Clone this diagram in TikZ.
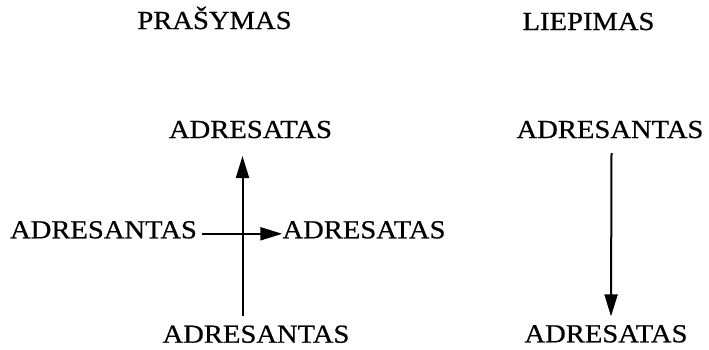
\documentclass[tikz,border=0pt]{standalone}
\usepackage{fontspec}
\setmainfont[FakeStretch=1.1,FakeBold=0.6]{Liberation Serif}
\usetikzlibrary{arrows.meta}
\begin{document}
\begin{tikzpicture}[x=1pt,y=-1pt,
  lbl/.style={anchor=base,inner sep=0pt,font=\fontsize{26}{31}\selectfont},
  arr/.style={line width=2pt,-{Triangle[length=22pt,width=13pt]}}]
\useasboundingbox (0,0) rectangle (709,349);
% column titles
\node[lbl] (req) at (214.5,29) {PRAŠYMAS};
\node[lbl] (ord) at (588.5,30) {LIEPIMAS};
% request: two crossing relations
\node[lbl] (ta) at (250.5,138) {ADRESATAS};
\node[lbl] (la) at (103.5,238.3) {ADRESANTAS};
\node[lbl] (ma) at (364,238.3) {ADRESATAS};
\node[lbl] (ba) at (256,342.7) {ADRESANTAS};
% order: one downward relation
\node[lbl] (ra) at (610,138) {ADRESANTAS};
\node[lbl] (rb) at (606,342.3) {ADRESATAS};
% connectors
\draw[arr] ([xshift=-13.5pt,yshift=9pt]ba.north) -- ([xshift=-8pt,yshift=-18pt]ta.base);
\draw[arr] ([xshift=5pt,yshift=4.5pt]la.base east) -- ([yshift=4.5pt]ma.base west);
\draw[arr] ([xshift=1.5pt,yshift=-15pt]ra.base) -- ([xshift=5pt,yshift=8.5pt]rb.north);
\end{tikzpicture}
\end{document}
